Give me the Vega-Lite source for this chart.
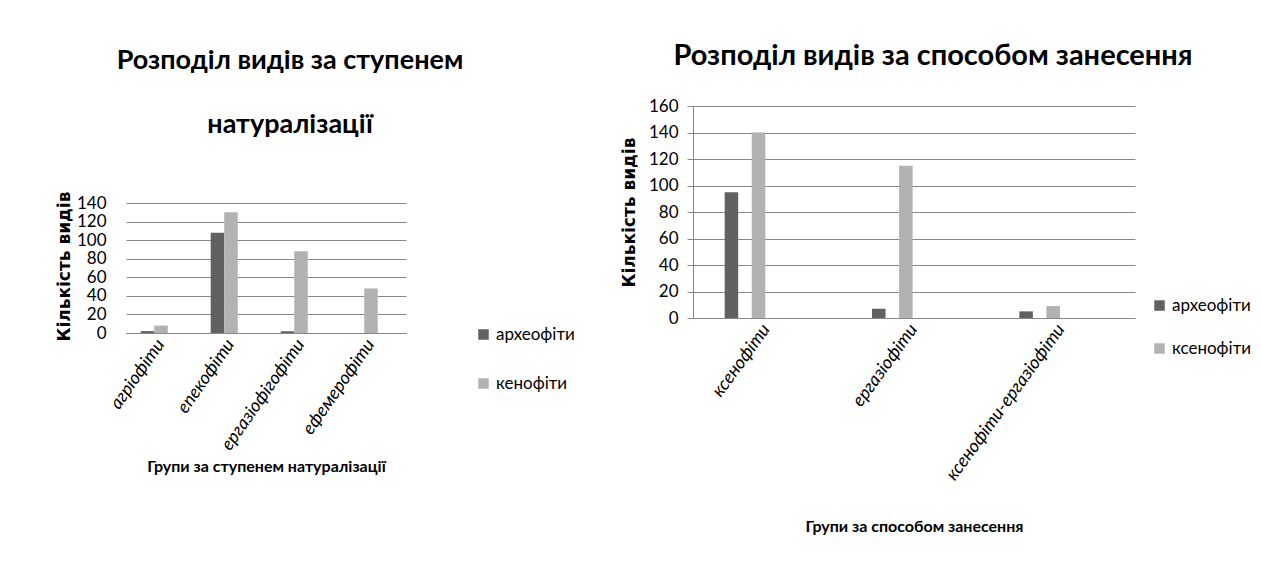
{
  "$schema": "https://vega.github.io/schema/vega-lite/v6.json",
  "background": "white",
  "padding": {"left": 55, "top": 42, "right": 5, "bottom": 5},
  "spacing": 45,
  "config": {
    "font": "Lato",
    "view": {"stroke": null},
    "axis": {
      "labelFont": "Lato",
      "labelFontSize": 17,
      "labelColor": "#000000",
      "gridColor": "#878787",
      "domainColor": "#878787",
      "tickColor": "#878787",
      "titleColor": "#000000"
    },
    "legend": {
      "labelFont": "Lato",
      "labelFontSize": 17,
      "labelColor": "#000000",
      "symbolType": "square",
      "symbolSize": 110,
      "symbolStrokeWidth": 0
    }
  },
  "resolve": {"scale": {"color": "independent"}, "legend": {"color": "independent"}},
  "hconcat": [
    {
      "width": 280,
      "height": 227,
      "title": {
        "text": ["Розподіл видів за ступенем", "натуралізації"],
        "font": "Lato",
        "fontSize": 27,
        "fontWeight": "bold",
        "lineHeight": 64,
        "color": "#000000",
        "frame": "group",
        "dx": 24,
        "offset": -33
      },
      "data": {
        "values": [
          {"group": "агріофіти", "series": "археофіти", "count": 2},
          {"group": "агріофіти", "series": "кенофіти", "count": 8},
          {"group": "епекофіти", "series": "археофіти", "count": 108},
          {"group": "епекофіти", "series": "кенофіти", "count": 130},
          {"group": "ергазіофігофіти", "series": "археофіти", "count": 2},
          {"group": "ергазіофігофіти", "series": "кенофіти", "count": 88},
          {"group": "ефемерофіти", "series": "археофіти", "count": 0},
          {"group": "ефемерофіти", "series": "кенофіти", "count": 48}
        ]
      },
      "mark": {"type": "bar"},
      "encoding": {
        "x": {
          "field": "group",
          "type": "nominal",
          "sort": ["агріофіти", "епекофіти", "ергазіофігофіти", "ефемерофіти"],
          "scale": {"paddingInner": 0.42, "paddingOuter": 0.21},
          "axis": {
            "title": "Групи за ступенем натуралізації",
            "titleFont": "Lato",
            "titleFontSize": 16,
            "titleFontWeight": "bold",
            "titlePadding": 5,
            "labelAngle": -55,
            "labelFontStyle": "italic",
            "labelFontSize": 18,
            "labelPadding": 8,
            "labelLimit": 300,
            "ticks": false,
            "domain": true
          }
        },
        "xOffset": {"field": "series", "sort": ["археофіти", "кенофіти"]},
        "y": {
          "field": "count",
          "type": "quantitative",
          "scale": {"domain": [0, 140], "nice": false, "range": [227, 97]},
          "axis": {
            "values": [0, 20, 40, 60, 80, 100, 120, 140],
            "title": "Кількість видів",
            "titleFont": "DejaVu Sans",
            "titleFontSize": 17,
            "titleFontWeight": "bold",
            "titlePadding": 3,
            "titleY": 160,
            "domain": false,
            "ticks": false,
            "offset": 8,
            "labelPadding": 12
          }
        },
        "color": {
          "field": "series",
          "type": "nominal",
          "scale": {"domain": ["археофіти", "кенофіти"], "range": ["#616161", "#b2b2b2"]},
          "legend": {
            "title": null,
            "orient": "none",
            "legendX": 349,
            "legendY": 220,
            "rowPadding": 31
          }
        }
      }
    },
    {
      "width": 442,
      "height": 212,
      "title": {
        "text": "Розподіл видів за способом занесення",
        "font": "Lato",
        "fontSize": 29,
        "fontWeight": "bold",
        "color": "#000000",
        "frame": "group",
        "dx": 19,
        "offset": 26
      },
      "data": {
        "values": [
          {"group": "ксенофіти", "series": "археофіти", "count": 95},
          {"group": "ксенофіти", "series": "ксенофіти", "count": 140},
          {"group": "ергазіофіти", "series": "археофіти", "count": 7},
          {"group": "ергазіофіти", "series": "ксенофіти", "count": 115},
          {"group": "ксенофіти-ергазіофіти", "series": "археофіти", "count": 5},
          {"group": "ксенофіти-ергазіофіти", "series": "ксенофіти", "count": 9}
        ]
      },
      "mark": {"type": "bar"},
      "encoding": {
        "x": {
          "field": "group",
          "type": "nominal",
          "sort": ["ксенофіти", "ергазіофіти", "ксенофіти-ергазіофіти"],
          "scale": {"paddingInner": 0.43, "paddingOuter": 0.215},
          "axis": {
            "title": "Групи за способом занесення",
            "titleFont": "Lato",
            "titleFontSize": 16,
            "titleFontWeight": "bold",
            "titlePadding": 35,
            "labelAngle": -54,
            "labelFontStyle": "italic",
            "labelFontSize": 18,
            "labelPadding": 8,
            "labelLimit": 300,
            "ticks": false,
            "domain": true
          }
        },
        "xOffset": {"field": "series", "sort": ["археофіти", "ксенофіти"]},
        "y": {
          "field": "count",
          "type": "quantitative",
          "scale": {"domain": [0, 160], "nice": false},
          "axis": {
            "values": [0, 20, 40, 60, 80, 100, 120, 140, 160],
            "title": "Кількість видів",
            "titleFont": "DejaVu Sans",
            "titleFontSize": 17,
            "titleFontWeight": "bold",
            "titlePadding": 10,
            "domain": true,
            "ticks": true,
            "tickSize": 6,
            "labelPadding": 9
          }
        },
        "color": {
          "field": "series",
          "type": "nominal",
          "scale": {"domain": ["археофіти", "ксенофіти"], "range": ["#616161", "#b2b2b2"]},
          "legend": {
            "title": null,
            "orient": "none",
            "legendX": 458,
            "legendY": 191,
            "rowPadding": 25
          }
        }
      }
    }
  ]
}
